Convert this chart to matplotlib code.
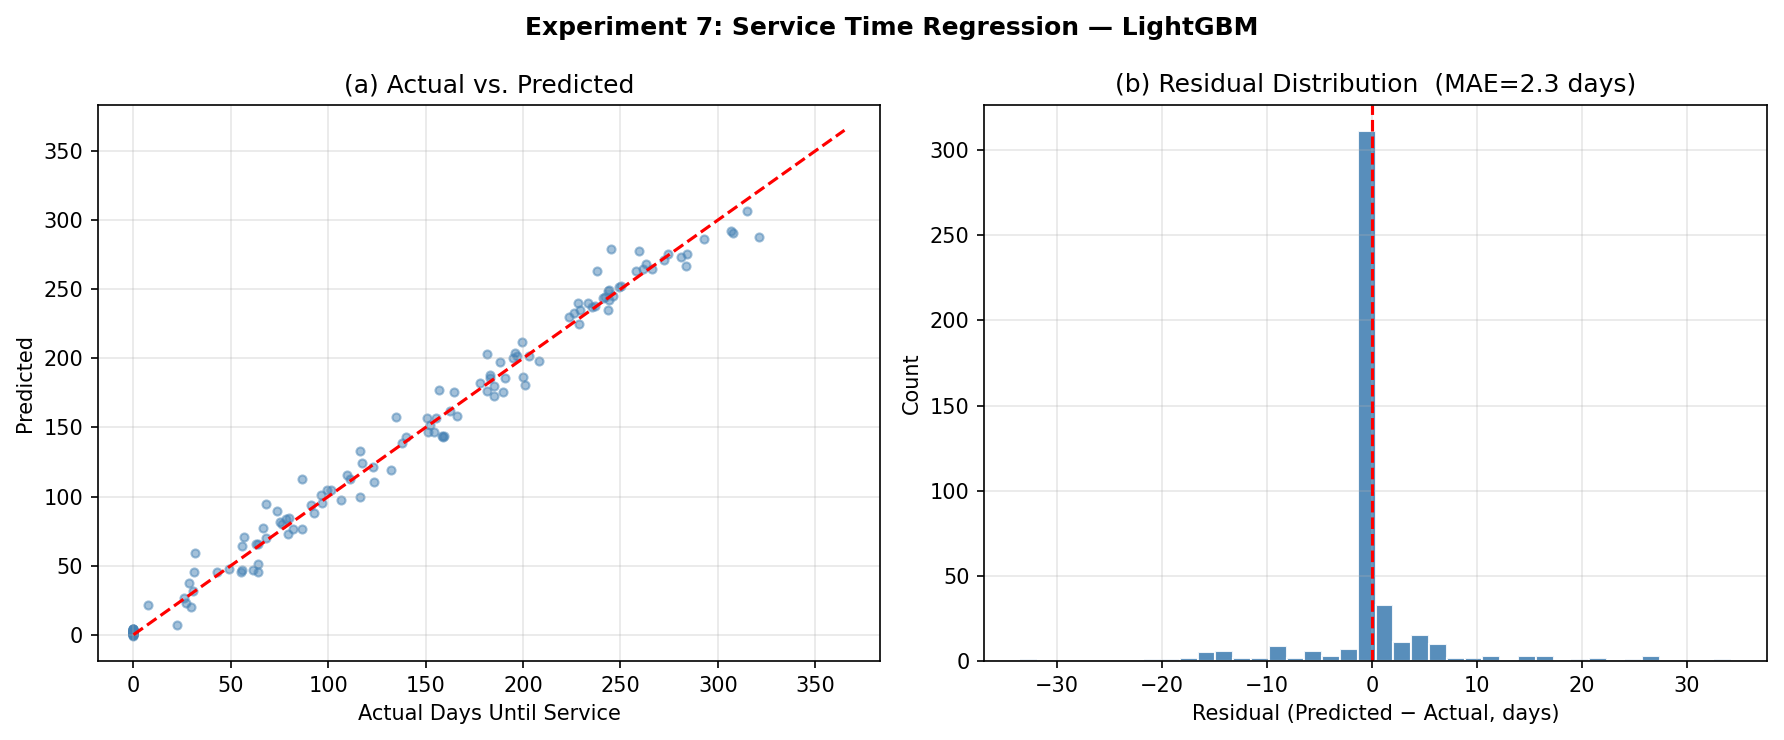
import numpy as np
import matplotlib
matplotlib.use("Agg")
import matplotlib.pyplot as plt

# ---------------- data ----------------
zero_pred = [0.2, 0.5, 1.0, 1.5, 2.0, 2.5, 3.0, 3.5, 4.0, 4.3, 0.0, 0.8, 1.2, 2.2,
             3.2, -0.5, 0.3, 1.8, 2.8, 3.8, 0.6, 1.4, 2.6, 4.2, -0.7, 0.1, 0.9, 3.4]

actual_days = [0.0] * len(zero_pred) + [
    7.3, 22.1, 31.8, 31.3, 28.7, 30.8, 26.0, 26.9, 29.4, 43.0, 49.1, 55.3, 55.8, 61.6,
    63.9, 64.1, 55.6, 56.6, 63.1, 63.8, 68.0, 66.5, 68.2, 73.6, 75.2, 76.0, 78.4, 79.8,
    79.3, 81.8, 86.6, 86.4, 91.0, 92.7, 96.1, 96.6, 99.5, 101.2, 106.5, 109.4, 110.9,
    116.2, 117.5, 116.2, 122.8, 123.6, 132.3, 134.6, 137.9, 139.8, 150.5, 152.2, 151.0,
    154.4, 155.4, 156.8, 158.2, 159.5, 158.9, 162.4, 164.5, 166.0, 178.1, 181.4, 182.9,
    183.1, 181.5, 185.0, 185.0, 188.0, 189.6, 190.6, 194.9, 195.8, 197.0, 199.5, 199.8,
    200.8, 203.2, 208.0, 223.7, 226.1, 228.0, 228.6, 229.3, 233.2, 235.6, 236.7, 238.2,
    241.1, 243.5, 244.2, 243.8, 246.4, 244.9, 249.3, 241.8, 244.0, 250.5, 258.2, 259.7,
    261.4, 263.0, 266.0, 272.2, 274.6, 281.0, 284.0, 283.4, 292.7, 306.8, 307.8, 314.7,
    321.1]
predicted_days = list(zero_pred) + [
    21.2, 6.7, 58.9, 45.2, 37.3, 31.3, 26.4, 23.3, 19.7, 45.2, 47.6, 45.7, 46.9, 46.9,
    51.0, 45.7, 64.4, 70.4, 65.6, 65.9, 69.7, 77.4, 94.9, 89.7, 81.3, 79.8, 83.7, 84.6,
    72.6, 76.2, 76.2, 112.7, 94.2, 88.2, 101.4, 95.4, 105.0, 105.0, 97.6, 115.9, 113.0,
    132.9, 124.3, 99.3, 121.4, 110.8, 119.5, 157.2, 139.0, 143.3, 156.5, 151.7, 146.4,
    146.9, 156.5, 177.4, 144.0, 144.0, 143.3, 161.5, 175.7, 157.9, 182.2, 203.1, 188.2,
    185.8, 176.4, 179.8, 172.8, 197.6, 175.7, 185.6, 200.2, 204.1, 201.7, 212.0, 186.8,
    181.0, 201.7, 198.3, 229.8, 232.9, 240.1, 224.8, 235.0, 240.1, 237.0, 238.0, 263.0,
    243.8, 249.0, 241.8, 235.1, 244.7, 278.8, 251.4, 244.5, 249.5, 252.4, 263.0, 277.4,
    264.4, 268.5, 264.4, 271.2, 275.2, 273.1, 275.5, 267.1, 286.5, 291.8, 290.4, 306.3,
    288.0]

ideal_line = [0, 365]

# residual histogram: 40 bins between min and max residual
resid_min, resid_max = -33.55, 34.25
resid_counts = [1, 0, 0, 0, 0, 0, 0, 1, 1, 2, 5, 6, 2, 2, 9, 2, 6, 3, 7, 311,
                33, 11, 15, 10, 2, 2, 3, 0, 3, 3, 0, 1, 2, 0, 1, 3, 0, 0, 0, 1]
mae = 2.3

# ---------------- figure ----------------
fig = plt.figure(figsize=(1784 / 150, 740 / 150), dpi=150)
ax1 = fig.add_axes([0.0549, 0.1068, 0.4384, 0.7514])
ax2 = fig.add_axes([0.5516, 0.1068, 0.4389, 0.7514])

ax1.scatter(actual_days, predicted_days, s=15, alpha=0.5, color="steelblue")
ax1.plot(ideal_line, ideal_line, "r--", lw=1.5)
ax1.set_xlabel("Actual Days Until Service")
ax1.set_ylabel("Predicted")
ax1.set_title("(a) Actual vs. Predicted", fontsize=12)
ax1.grid(alpha=0.3)

edges = np.linspace(resid_min, resid_max, len(resid_counts) + 1)
centers = (edges[:-1] + edges[1:]) / 2
ax2.hist(centers, bins=edges, weights=resid_counts, color="steelblue",
         edgecolor="white", alpha=0.9)
ax2.axvline(0, color="red", linestyle="--", lw=1.5)
ax2.set_xlabel("Residual (Predicted \u2212 Actual, days)")
ax2.set_ylabel("Count")
ax2.set_title(f"(b) Residual Distribution  (MAE={mae} days)", fontsize=12)
ax2.grid(alpha=0.3)

fig.suptitle("Experiment 7: Service Time Regression \u2014 LightGBM",
             fontweight="bold", fontsize=12, y=0.978)

fig.savefig("out.png", dpi=150)
